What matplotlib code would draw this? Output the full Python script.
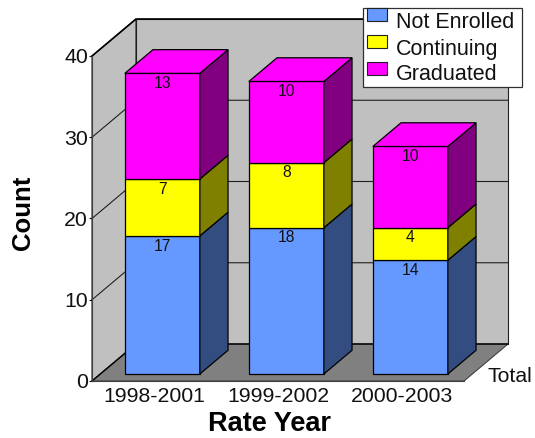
import matplotlib
matplotlib.use("Agg")
import matplotlib.pyplot as plt
from matplotlib.patches import Polygon, Rectangle
from matplotlib.transforms import Affine2D

plt.rcParams["font.family"] = ["Liberation Sans", "DejaVu Sans"]

years = ["1998-2001", "1999-2002", "2000-2003"]
not_enrolled = [17, 18, 14]
continuing = [7, 8, 4]
graduated = [13, 10, 10]
y_ticks = [0, 10, 20, 30, 40]

series = [not_enrolled, continuing, graduated]
names = ["Not Enrolled", "Continuing", "Graduated"]
front_cols = ["#6699FF", "#FFFF00", "#FF00FF"]
side_cols = ["#334D80", "#808000", "#800080"]

W, H = 535, 438
# pixels per unit on the front plane
PX_X = 124.0
PX_Y = 8.125
X0 = 154.0
Y0 = 381.0
# full depth of the box, in data units
DX = 44.0 / PX_X
DY = 37.0 / PX_Y
# bar size
BAR_W = 75.0 / PX_X
D_FRONT = 0.19
D_BACK = 0.83

fig = plt.figure(figsize=(W / 100, H / 100), dpi=100)
ax = fig.add_axes([0, 0, 1, 1], facecolor="none")
ax.set_xlim(-X0 / PX_X, (W - X0) / PX_X)
ax.set_ylim((Y0 - H) / PX_Y, Y0 / PX_Y)
px = Affine2D().scale(1, -1).translate(0, H)

x_left = -0.5
x_right = 2.5
y_top = y_ticks[-1]


def proj(x, y, d):
    return (x + d * DX, y + d * DY)


def face(pts, fc, ec="black", lw=0.9, z=2):
    ax.add_patch(Polygon(pts, closed=True, fc=fc, ec=ec, lw=lw, zorder=z, joinstyle="miter"))


# walls and floor
face([proj(x_left, 0, 0), proj(x_left, y_top, 0), proj(x_left, y_top, 1), proj(x_left, 0, 1)], "#C0C0C0", "#202020", 0.8, 1)
face([proj(x_left, 0, 1), proj(x_left, y_top, 1), proj(x_right, y_top, 1), proj(x_right, 0, 1)], "#C0C0C0", "#202020", 0.8, 1)
face([proj(x_left, 0, 0), proj(x_left, 0, 1), proj(x_right, 0, 1), proj(x_right, 0, 0)], "#808080", "#404040", 0.8, 1)
ax.plot(*zip(proj(x_left, y_top, 0), proj(x_left, y_top, 1), proj(x_right, y_top, 1)), color="black", lw=1.2, zorder=1.5)
ax.plot(*zip(proj(x_left, 0, 0), proj(x_left, 0, 1), proj(x_right, 0, 1)), color="black", lw=1.0, zorder=1.5)

# grid lines
for t in y_ticks[1:-1]:
    ax.plot(*zip(proj(x_left, t, 0), proj(x_left, t, 1), proj(x_right, t, 1)), color="#202020", lw=0.8, zorder=1.2)

# stacked bars
for i in range(len(years)):
    left = i + D_FRONT * DX - BAR_W / 2
    right = left + BAR_W
    base = 0
    for s, vals in enumerate(series):
        top = base + vals[i]
        b0 = D_FRONT * DY
        face([(left, base + b0), (right, base + b0), (right, top + b0), (left, top + b0)], front_cols[s])
        face([proj(right - D_FRONT * DX, base, D_FRONT), proj(right - D_FRONT * DX, base, D_BACK),
              proj(right - D_FRONT * DX, top, D_BACK), proj(right - D_FRONT * DX, top, D_FRONT)], side_cols[s])
        if s == len(series) - 1:
            face([proj(left - D_FRONT * DX, top, D_FRONT), proj(left - D_FRONT * DX, top, D_BACK),
                  proj(right - D_FRONT * DX, top, D_BACK), proj(right - D_FRONT * DX, top, D_FRONT)], front_cols[s])
        ax.annotate(str(vals[i]), ((left + right) / 2, top + b0), xytext=(0, -2), textcoords="offset points",
                    ha="center", va="top", fontsize=11.3, color="#111111", zorder=3)
        base = top

# axes
for name in ["top", "right"]:
    ax.spines[name].set_visible(False)
ax.spines["left"].set_position(("data", x_left))
ax.spines["left"].set_bounds(0, y_top)
ax.spines["left"].set_color("#404040")
ax.spines["bottom"].set_position(("data", 0))
ax.spines["bottom"].set_bounds(x_left, x_right)
ax.spines["bottom"].set_color("#404040")
ax.set_yticks(y_ticks)
ax.set_xticks(range(len(years)))
ax.set_xticklabels(years)
ax.tick_params(axis="y", length=2.5, width=0.8, pad=0.5, labelsize=15.3, colors="#111111")
ax.tick_params(axis="x", length=0, pad=4.5, labelsize=15.3, colors="#111111")

ax.text(487, 376, "Total", transform=px, fontsize=15.3, ha="left", va="center", color="#111111")
ax.text(269, 424, "Rate Year", transform=px, fontsize=19.5, fontweight="bold", ha="center", va="center")
ax.text(23, 213, "Count", transform=px, fontsize=18.5, fontweight="bold", rotation=90, ha="center", va="center")

# legend
ax.add_patch(Rectangle((363, 8), 159, 79, transform=px, fc="white", ec="#303030", lw=0.9, zorder=4))
sw_y = [8, 35, 62]
txt_y = [22.5, 49.5, 75]
for s, name in enumerate(names):
    ax.add_patch(Rectangle((367, sw_y[s]), 20, 13, transform=px, fc=front_cols[s], ec="#202020", lw=0.8, zorder=5))
    ax.text(396, txt_y[s], name, transform=px, fontsize=15.5, ha="left", va="center", color="#111111", zorder=5)

fig.savefig("out.png", dpi=100)
